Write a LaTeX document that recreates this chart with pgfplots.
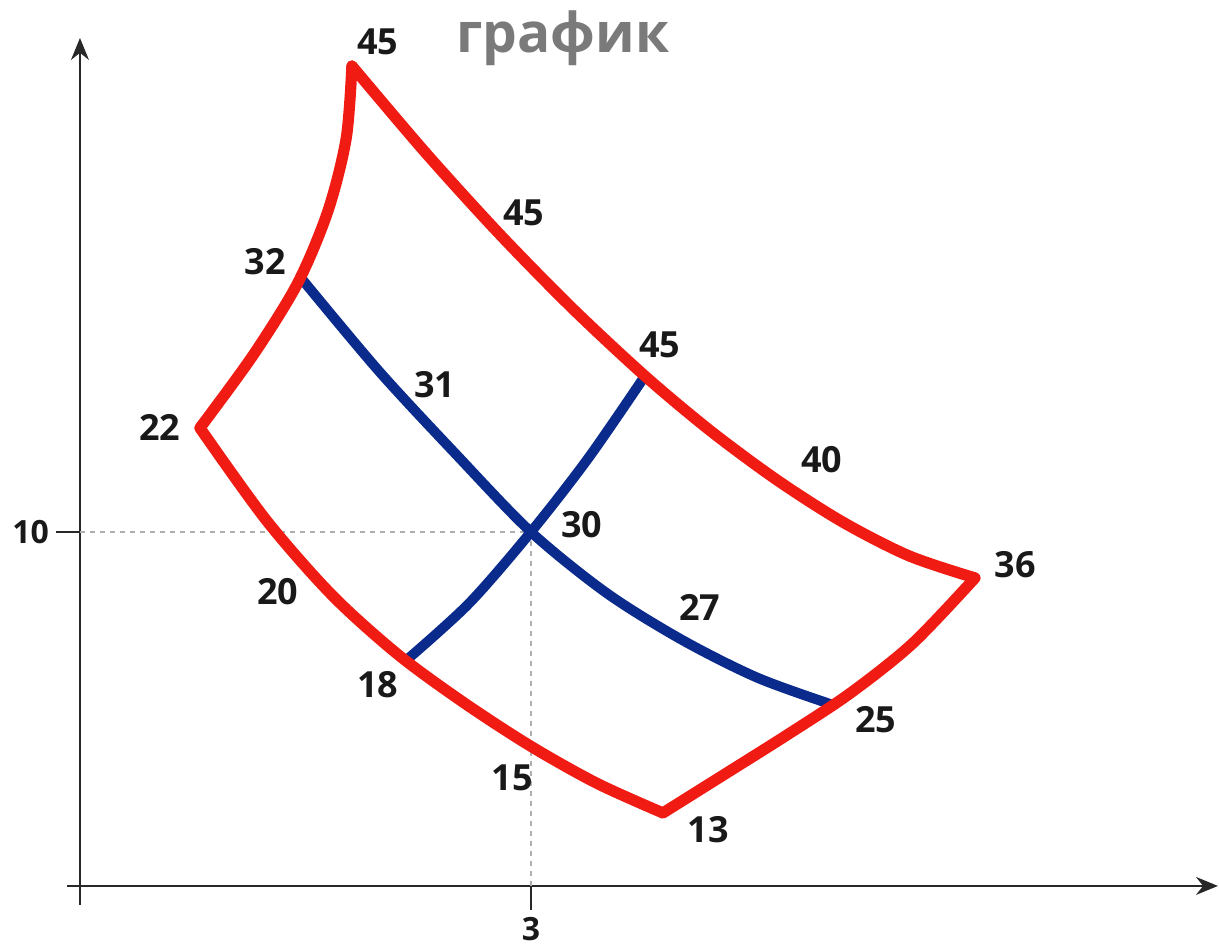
\documentclass[border=0pt]{standalone}
\usepackage{fontspec}
\setmainfont{Open Sans}
\usepackage{pgfplots}
\pgfplotsset{compat=1.18}
\usetikzlibrary{arrows.meta}
\definecolor{cred}{RGB}{240,28,20}
\definecolor{cblue}{RGB}{10,42,140}
\definecolor{axgray}{RGB}{40,40,40}
\definecolor{tgray}{RGB}{122,122,122}
\definecolor{dgray}{RGB}{175,175,175}
\tikzset{lbl/.style={font=\bfseries\fontsize{18}{18}\selectfont, text=black!90, anchor=center, inner sep=0pt}}
\begin{document}
\begin{tikzpicture}
\begin{axis}[
  scale only axis, width=575.25pt, height=433.5pt,
  xmin=-0.083, xmax=7.570, ymin=-0.537, ymax=23.955,
  axis lines=middle,
  axis line style={axgray, line width=0.75pt, -{Stealth[length=11pt,width=9pt]}},
  xtick={3}, ytick={10},
  tick align=outside, major tick length=12pt,
  tick style={axgray, line width=0.75pt},
  ticklabel style={font=\bfseries\fontsize{16}{16}\selectfont, text=black!90},
  /pgf/number format/assume math mode=true,
  clip=false,
]
\path (axis cs:-0.532,-1.638) rectangle (axis cs:7.577,25.028);
% guide lines
\addplot[dgray, line width=0.6pt, dash pattern=on 2.5pt off 2.5pt] coordinates {(0,10) (3,10) (3,0)};
% blue: 32 -> 30 -> 25
\addplot[cblue, line width=5pt, smooth, line cap=round] coordinates {
 (1.465,17.203) (1.985,14.562) (2.495,12.223) (3.000,10.000) (3.506,8.266)
 (4.007,6.946) (4.507,5.881) (5.009,5.113)};
% blue: 18 -> 30 -> 45
\addplot[cblue, line width=5pt, smooth, line cap=round] coordinates {
 (2.173,6.384) (2.589,7.986) (3.000,10.000) (3.382,12.088) (3.758,14.407)};
% red: 22 -> 32 -> 45
\addplot[cred, line width=5.6pt, smooth, line cap=round, line join=round] coordinates {
 (0.798,12.938) (1.150,14.983) (1.448,17.028) (1.650,19.073) (1.771,21.119) (1.809,23.164)};
% red: 45 -> 45 -> 36
\addplot[cred, line width=5.6pt, smooth, line cap=round, line join=round] coordinates {
 (1.809,23.164) (2.297,20.723) (2.784,18.446) (3.271,16.336) (3.758,14.407)
 (4.197,12.847) (4.636,11.469) (5.075,10.277) (5.515,9.325) (5.954,8.701)};
% red: 36 -> 25 -> 13
\addplot[cred, line width=5.6pt, smooth, line cap=round, line join=round] coordinates {
 (5.954,8.701) (5.539,6.850) (5.123,5.441) (4.708,4.277) (4.293,3.167) (3.878,2.062)};
% red: 13 -> 18 -> 22
\addplot[cred, line width=5.6pt, smooth, line cap=round, line join=round] coordinates {
 (3.878,2.062) (3.438,2.901) (2.998,3.949) (2.558,5.164) (2.118,6.528)
 (1.678,8.209) (1.238,10.339) (0.798,12.938)};
% labels
\node[lbl] at (axis cs:1.982,23.842) {45};
\node[lbl] at (axis cs:2.953,19.011) {45};
\node[lbl] at (axis cs:1.231,17.627) {32};
\node[lbl] at (axis cs:2.361,14.153) {31};
\node[lbl] at (axis cs:3.858,15.282) {45};
\node[lbl] at (axis cs:4.936,12.034) {40};
\node[lbl] at (axis cs:0.532,12.966) {22};
\node[lbl] at (axis cs:3.339,10.198) {30};
\node[lbl] at (axis cs:6.220,9.068) {36};
\node[lbl] at (axis cs:1.317,8.305) {20};
\node[lbl] at (axis cs:4.124,7.853) {27};
\node[lbl] at (axis cs:1.982,5.678) {18};
\node[lbl] at (axis cs:5.295,4.689) {25};
\node[lbl] at (axis cs:2.874,3.051) {15};
\node[lbl] at (axis cs:4.178,1.582) {13};
\node[font=\bfseries\fontsize{27.5}{27.5}\selectfont, text=tgray, anchor=base, inner sep=0pt] at (axis cs:3.213,23.531) {график};
\end{axis}
\end{tikzpicture}
\end{document}
